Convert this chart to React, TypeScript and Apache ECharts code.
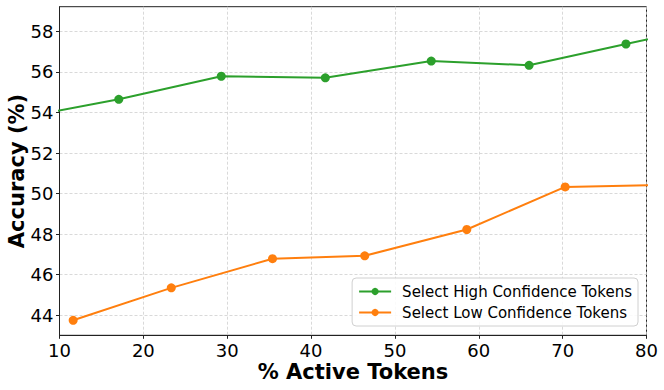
import React, { useEffect, useRef } from "react";
import * as echarts from "echarts";

const highX = [4.9, 17.07, 29.29, 41.7, 54.33, 66.0, 77.55, 89.8];
const highY = [53.7, 54.65, 55.79, 55.71, 56.54, 56.33, 57.38, 58.48];
const lowX = [11.63, 23.33, 35.4, 46.4, 58.57, 70.3, 82.0];
const lowY = [43.75, 45.35, 46.79, 46.93, 48.23, 50.33, 50.42];
const yTicks = [44, 46, 48, 50, 52, 54, 56, 58];
const seriesNames = ["Select High Confidence Tokens", "Select Low Confidence Tokens"];
const xTitle = "% Active Tokens";
const yTitle = "Accuracy (%)";

const FONT = "DejaVu Sans";

export default function App() {
  const ref = useRef<HTMLDivElement>(null);
  useEffect(() => {
    if (!ref.current) return;
    const chart = echarts.init(ref.current, undefined, { renderer: "svg" });
    const pair = (xs: number[], ys: number[]) => xs.map((x, i) => [x, ys[i]]);
    chart.setOption({
      animation: false,
      backgroundColor: "#fff",
      grid: {
        left: 59.5,
        right: 17.5,
        top: 6.7,
        bottom: 54.7,
        containLabel: false,
        outerBoundsMode: "none",
        show: true,
        borderColor: "#222",
        borderWidth: 1,
        backgroundColor: "transparent",
      },
      legend: {
        right: 26,
        top: 278,
        orient: "vertical",
        itemWidth: 32,
        itemHeight: 9,
        itemGap: 6,
        padding: [6, 6, 6, 6],
        backgroundColor: "rgba(255,255,255,0.85)",
        borderColor: "#d0d0d0",
        borderWidth: 1,
        borderRadius: 4,
        textStyle: { fontFamily: FONT, fontSize: 15, color: "#000", padding: [0, 0, 0, 6] },
        data: seriesNames,
      },
      xAxis: {
        type: "value",
        min: 10,
        max: 80,
        interval: 10,
        name: xTitle,
        nameLocation: "middle",
        nameGap: 26.5,
        nameMoveOverlap: false,
        nameTextStyle: { fontFamily: FONT, fontSize: 21, fontWeight: "bold", color: "#000" },
        axisLine: { show: true, lineStyle: { color: "#222", width: 1 } },
        axisTick: { show: true, length: 3.5, lineStyle: { color: "#222" } },
        axisLabel: { fontFamily: FONT, fontSize: 18, color: "#000", margin: 6 },
        splitLine: { show: true, lineStyle: { color: "#cfcfcf", type: [3, 2], width: 0.8 } },
      },
      yAxis: {
        type: "value",
        min: 43.01,
        max: 59.22,
        name: yTitle,
        nameLocation: "middle",
        nameGap: 32,
        nameMoveOverlap: false,
        nameTextStyle: { fontFamily: FONT, fontSize: 21, fontWeight: "bold", color: "#000" },
        axisLine: { show: true, lineStyle: { color: "#222", width: 1 } },
        axisTick: { show: true, length: 3.5, lineStyle: { color: "#222" }, customValues: yTicks },
        axisLabel: { fontFamily: FONT, fontSize: 18, color: "#000", margin: 6, customValues: yTicks },
        splitLine: { show: true, lineStyle: { color: "#cfcfcf", type: [3, 2], width: 0.8 } },
      },
      series: [
        {
          name: seriesNames[0],
          type: "line",
          data: pair(highX, highY),
          color: "#2ca02c",
          lineStyle: { width: 2 },
          symbol: "circle",
          symbolSize: 9,
          clip: true,
        },
        {
          name: seriesNames[1],
          type: "line",
          data: pair(lowX, lowY),
          color: "#ff7f0e",
          lineStyle: { width: 2 },
          symbol: "circle",
          symbolSize: 9,
          clip: true,
        },
      ],
    });
    return () => chart.dispose();
  }, []);
  return <div ref={ref} style={{ width: 664, height: 390, position: "absolute", left: 0, top: 0 }} />;
}
